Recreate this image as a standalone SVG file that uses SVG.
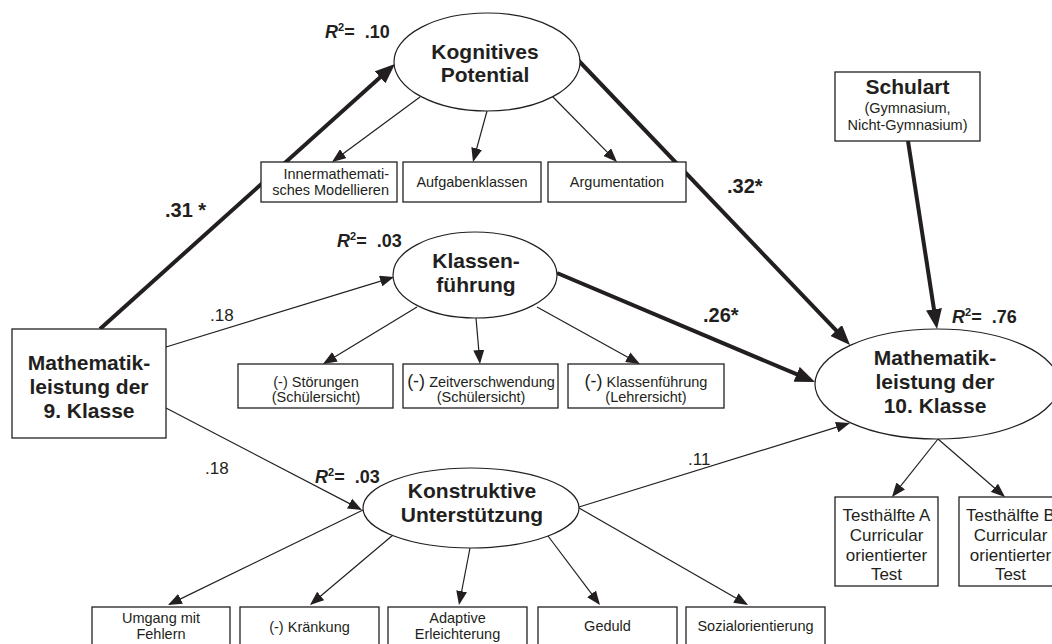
<svg xmlns="http://www.w3.org/2000/svg" width="1052" height="644" viewBox="0 0 1052 644">
<style>
  .box { fill: #ffffff; stroke: #231f20; stroke-width: 1.3; }
  .ell { fill: #ffffff; stroke: #231f20; stroke-width: 1.2; }
  .thin { stroke: #231f20; stroke-width: 1.2; fill: none; marker-end: url(#ah); }
  .thick { stroke: #231f20; stroke-width: 4; fill: none; marker-end: url(#ahb); }
  text { font-family: "Liberation Sans", Arial, sans-serif; fill: #231f20; }
  .big { font-size: 21px; font-weight: bold; text-anchor: middle; }
  .sm { font-size: 14.5px; text-anchor: middle; }
  .test { font-size: 17px; text-anchor: middle; }
  .coef { font-size: 20px; font-weight: bold; }
  .coefn { font-size: 17px; }
  .r2 { font-size: 18px; font-weight: bold; }
  .par { font-size: 18px; }
</style>
<defs>
  <marker id="ah" viewBox="0 0 14 11" refX="12" refY="5.5" markerWidth="14" markerHeight="11" markerUnits="userSpaceOnUse" orient="auto">
    <path d="M0,0 L14,5.5 L0,11 z" fill="#231f20"/>
  </marker>
  <marker id="ahb" viewBox="0 0 20 16" refX="14" refY="8" markerWidth="20" markerHeight="16" markerUnits="userSpaceOnUse" orient="auto">
    <path d="M0,0 L20,8 L0,16 z" fill="#231f20"/>
  </marker>
</defs>
<rect width="1052" height="644" fill="#ffffff"/>

<g id="connectors">
  <line class="thick" x1="100" y1="329" x2="390.5" y2="68"/>
  <line class="thick" x1="578" y1="60" x2="845.9" y2="340.7"/>
  <line class="thick" x1="557" y1="273" x2="809.5" y2="379.7"/>
  <line class="thick" x1="908" y1="141" x2="936.1" y2="323.1"/>
  <line class="thin" x1="166" y1="347" x2="392.1" y2="277.6"/>
  <line class="thin" x1="166" y1="408" x2="360.2" y2="509.1"/>
  <line class="thin" x1="579" y1="507" x2="848.1" y2="423.6"/>
  <line class="thin" x1="420" y1="97" x2="333.6" y2="160.8"/>
  <line class="thin" x1="487" y1="111" x2="473.5" y2="160.1"/>
  <line class="thin" x1="552" y1="96" x2="615.6" y2="160.6"/>
  <line class="thin" x1="417" y1="307" x2="324.7" y2="363"/>
  <line class="thin" x1="476" y1="318" x2="479.8" y2="362"/>
  <line class="thin" x1="537" y1="307" x2="638.2" y2="363"/>
  <line class="thin" x1="363" y1="510" x2="169.8" y2="604.1"/>
  <line class="thin" x1="393" y1="535" x2="311.5" y2="603.7"/>
  <line class="thin" x1="470" y1="548" x2="459.4" y2="603"/>
  <line class="thin" x1="548" y1="536" x2="598.8" y2="603.4"/>
  <line class="thin" x1="579" y1="508" x2="746.3" y2="604"/>
  <line class="thin" x1="938" y1="439" x2="893.2" y2="495.4"/>
  <line class="thin" x1="938" y1="439" x2="1003.5" y2="495.7"/>
  <text class="coef" x="165" y="217" xml:space="preserve">.31 *</text>
  <text class="coef" x="727" y="193">.32*</text>
  <text class="coef" x="703" y="322">.26*</text>
  <text class="coefn" x="210" y="321">.18</text>
  <text class="coefn" x="205" y="474">.18</text>
  <text class="coefn" x="688" y="465">.11</text>
</g>

<g id="mathe9">
  <rect class="box" x="12" y="329" width="154" height="109"/>
  <text class="big" x="89" y="370">Mathematik-</text>
  <text class="big" x="89" y="394">leistung der</text>
  <text class="big" x="89" y="418">9. Klasse</text>
</g>

<g id="kognitiv">
  <ellipse class="ell" cx="487" cy="62" rx="93" ry="49"/>
  <text class="big" x="485" y="59">Kognitives</text>
  <text class="big" x="485" y="82">Potential</text>
  <text class="r2" x="325" y="38" xml:space="preserve"><tspan font-style="italic">R</tspan><tspan font-size="11" dy="-7">2</tspan><tspan dy="7">=  .10</tspan></text>
</g>

<g id="innermath">
  <rect class="box" x="261" y="162" width="136" height="40"/>
  <text class="sm" x="389" y="179" style="text-anchor:end">Innermathemati-</text>
  <text class="sm" x="389" y="195" style="text-anchor:end">sches Modellieren</text>
</g>
<g id="aufgaben">
  <rect class="box" x="403" y="162" width="138" height="40"/>
  <text class="sm" x="472" y="187">Aufgabenklassen</text>
</g>
<g id="argumentation">
  <rect class="box" x="548" y="162" width="138" height="40"/>
  <text class="sm" x="617" y="187">Argumentation</text>
</g>

<g id="klassenfuehrung">
  <ellipse class="ell" cx="475" cy="275" rx="82" ry="43"/>
  <text class="big" x="476" y="268">Klassen-</text>
  <text class="big" x="476" y="292">führung</text>
  <text class="r2" x="337" y="247" xml:space="preserve"><tspan font-style="italic">R</tspan><tspan font-size="11" dy="-7">2</tspan><tspan dy="7">=  .03</tspan></text>
</g>

<g id="stoerungen">
  <rect class="box" x="238" y="364" width="155" height="44"/>
  <text class="sm" x="316" y="387">(-) Störungen</text>
  <text class="sm" x="316" y="402">(Schülersicht)</text>
</g>
<g id="zeit">
  <rect class="box" x="403" y="364" width="155" height="44"/>
  <text class="sm" x="481" y="387"><tspan class="par">(-)</tspan> Zeitverschwendung</text>
  <text class="sm" x="481" y="402">(Schülersicht)</text>
</g>
<g id="lehrer">
  <rect class="box" x="568" y="364" width="156" height="44"/>
  <text class="sm" x="646" y="387"><tspan class="par">(-)</tspan> Klassenführung</text>
  <text class="sm" x="646" y="402">(Lehrersicht)</text>
</g>

<g id="konstruktiv">
  <ellipse class="ell" cx="471" cy="508" rx="108" ry="40"/>
  <text class="big" x="472" y="498">Konstruktive</text>
  <text class="big" x="472" y="522">Unterstützung</text>
  <text class="r2" x="315" y="483" xml:space="preserve"><tspan font-style="italic">R</tspan><tspan font-size="11" dy="-7">2</tspan><tspan dy="7">=  .03</tspan></text>
</g>

<g id="umgang">
  <rect class="box" x="92" y="607" width="138" height="50"/>
  <text class="sm" x="161" y="623">Umgang mit</text>
  <text class="sm" x="161" y="639">Fehlern</text>
</g>
<g id="kraenkung">
  <rect class="box" x="240" y="607" width="139" height="50"/>
  <text class="sm" x="309.5" y="632">(-) Kränkung</text>
</g>
<g id="adaptiv">
  <rect class="box" x="388" y="607" width="139" height="50"/>
  <text class="sm" x="457.5" y="623">Adaptive</text>
  <text class="sm" x="457.5" y="639">Erleichterung</text>
</g>
<g id="geduld">
  <rect class="box" x="538" y="607" width="139" height="50"/>
  <text class="sm" x="607.5" y="631">Geduld</text>
</g>
<g id="sozial">
  <rect class="box" x="686" y="607" width="139" height="50"/>
  <text class="sm" x="755.5" y="631">Sozialorientierung</text>
</g>

<g id="schulart">
  <rect class="box" x="835" y="72" width="145" height="69"/>
  <text class="big" x="907.5" y="94">Schulart</text>
  <text class="sm" x="907.5" y="113" font-size="15">(Gymnasium,</text>
  <text class="sm" x="907.5" y="130" font-size="15">Nicht-Gymnasium)</text>
</g>

<g id="mathe10">
  <ellipse class="ell" cx="937" cy="384" rx="122" ry="55"/>
  <text class="big" x="935" y="365">Mathematik-</text>
  <text class="big" x="935" y="389">leistung der</text>
  <text class="big" x="935" y="413">10. Klasse</text>
  <text class="r2" x="952" y="323" xml:space="preserve"><tspan font-style="italic">R</tspan><tspan font-size="11" dy="-7">2</tspan><tspan dy="7">=  .76</tspan></text>
</g>

<g id="testA">
  <rect class="box" x="835" y="497" width="103" height="89"/>
  <text class="test" x="886.5" y="521">Testhälfte A</text>
  <text class="test" x="886.5" y="541">Curricular</text>
  <text class="test" x="886.5" y="561">orientierter</text>
  <text class="test" x="886.5" y="580">Test</text>
</g>
<g id="testB">
  <rect class="box" x="959" y="497" width="103" height="89"/>
  <text class="test" x="1010.5" y="521">Testhälfte B</text>
  <text class="test" x="1010.5" y="541">Curricular</text>
  <text class="test" x="1010.5" y="561">orientierter</text>
  <text class="test" x="1010.5" y="580">Test</text>
</g>
</svg>
